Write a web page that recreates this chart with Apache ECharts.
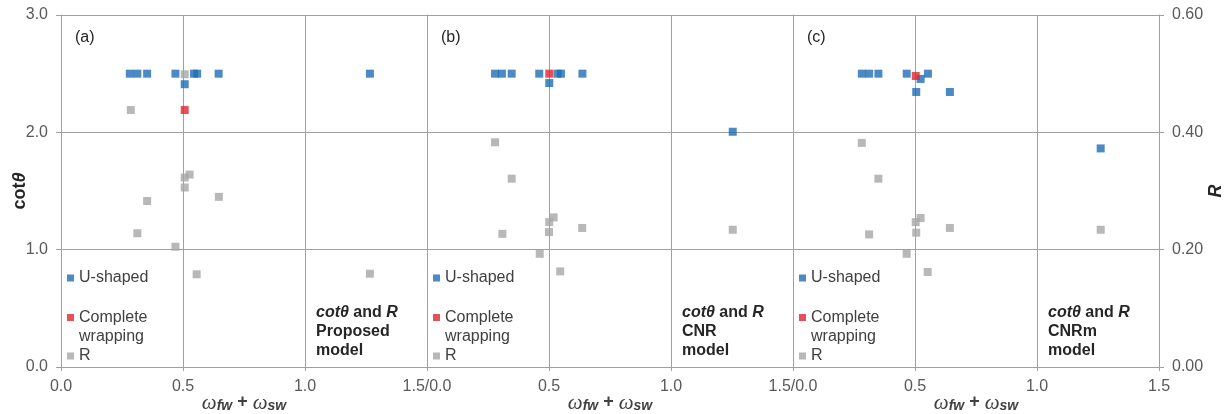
<!DOCTYPE html>
<html>
<head>
<meta charset="utf-8">
<script src="https://cdn.jsdelivr.net/npm/echarts@6/dist/echarts.min.js"></script>
<style>html,body{margin:0;padding:0;background:#fff;}#c{width:1227px;height:414px;}</style>
</head>
<body>
<div id="c"></div>
<script>
// ---------- data ----------
const panelLetters = ['(a)', '(b)', '(c)'];
const modelNames = ['Proposed', 'CNR', 'CNRm'];
const seriesNames = ['U-shaped', 'Complete\nwrapping', 'R'];

const xTickLabels = [
  ['0.0', '0.5', '1.0', ''],
  ['1.5/0.0', '0.5', '1.0', ''],
  ['1.5/0.0', '0.5', '1.0', '1.5']
];
const cotTickLabels = ['0.0', '1.0', '2.0', '3.0'];
const rTickLabels = ['0.00', '0.20', '0.40', '0.60'];

// panel (a) - Proposed model
const aUx = [0.282, 0.313, 0.353, 0.469, 0.507, 0.545, 0.558, 0.646, 1.266];
const aUy = [2.50, 2.50, 2.50, 2.50, 2.41, 2.50, 2.50, 2.50, 2.50];
const aCx = [0.507];
const aCy = [2.19];
const aRx = [0.286, 0.507, 0.527, 0.507, 0.507, 0.353, 0.647, 0.313, 0.469, 0.556, 1.266];
const aRy = [0.438, 0.499, 0.328, 0.323, 0.306, 0.283, 0.290, 0.228, 0.205, 0.158, 0.159];

// panel (b) - CNR model
const bUx = [0.279, 0.307, 0.347, 0.460, 0.501, 0.535, 0.549, 0.637, 1.253];
const bUy = [2.50, 2.50, 2.50, 2.50, 2.42, 2.50, 2.50, 2.50, 2.005];
const bCx = [0.501];
const bCy = [2.50];
const bRx = [0.279, 0.347, 0.309, 0.501, 0.519, 0.500, 0.636, 0.462, 0.546, 1.253];
const bRy = [0.383, 0.321, 0.227, 0.247, 0.255, 0.230, 0.237, 0.193, 0.163, 0.234];

// panel (c) - CNRm model
const cUx = [0.282, 0.312, 0.350, 0.466, 0.523, 0.553, 0.505, 0.643, 1.261];
const cUy = [2.50, 2.50, 2.50, 2.50, 2.455, 2.50, 2.344, 2.344, 1.863];
const cCx = [0.503];
const cCy = [2.48];
const cRx = [0.282, 0.350, 0.312, 0.503, 0.523, 0.505, 0.643, 0.466, 0.552, 1.261];
const cRy = [0.382, 0.321, 0.226, 0.247, 0.254, 0.229, 0.237, 0.193, 0.162, 0.234];

// ---------- build ----------
const panelData = [
  {U: [aUx, aUy], C: [aCx, aCy], R: [aRx, aRy]},
  {U: [bUx, bUy], C: [bCx, bCy], R: [bRx, bRy]},
  {U: [cUx, cUy], C: [cCx, cCy], R: [cRx, cRy]}
];
const zip = (xs, ys) => xs.map((x, i) => [x, ys[i]]);

const FONT = 'Liberation Sans, Arial, sans-serif';
const TXT = '#595959';
const DARK = '#262626';
const GRIDC = '#a0a0a0';
const colors = ['#1f6db4', '#e0252f', '#a6a6a6'];

const gridLefts = [61, 427, 793];
const gridW = 366;

const grids = gridLefts.map(l => ({
  left: l, width: gridW, top: 15, bottom: 47,
  containLabel: false, outerBoundsMode: 'none'
}));

const xAxes = gridLefts.map((l, i) => ({
  type: 'value', gridIndex: i, min: 0, max: 1.5, interval: 0.5,
  axisLine: {show: true, lineStyle: {color: GRIDC, width: 1}},
  axisTick: {show: true, length: 4, lineStyle: {color: GRIDC}},
  splitLine: {show: true, lineStyle: {color: GRIDC, width: 1}},
  axisLabel: {
    color: TXT, fontSize: 16, fontFamily: FONT, margin: 12,
    showMinLabel: true, showMaxLabel: true, hideOverlap: false,
    formatter: v => xTickLabels[i][Math.round(v / 0.5)]
  },
  name: '{w|ω}{s|fw}{p| + }{w|ω}{s|sw}',
  nameLocation: 'middle', nameGap: 26, nameMoveOverlap: false,
  nameTextStyle: {
    color: '#404040', fontFamily: FONT,
    rich: {
      w: {fontSize: 21, fontStyle: 'italic', fontFamily: 'Liberation Serif, serif', color: '#404040', verticalAlign: 'top', lineHeight: 21},
      s: {fontSize: 14, fontStyle: 'italic', fontWeight: 'bold', fontFamily: FONT, color: '#404040', verticalAlign: 'top', lineHeight: 21, padding: [6, 0, 0, 0]},
      p: {fontSize: 18, fontWeight: 'bold', fontFamily: FONT, color: '#404040', verticalAlign: 'top', lineHeight: 21}
    }
  }
}));

const yAxes = [];
for (let i = 0; i < 3; i++) {
  // cot axis
  yAxes.push({
    type: 'value', gridIndex: i, min: 0, max: 3, interval: 1, position: 'left',
    axisLine: {show: true, lineStyle: {color: GRIDC}},
    axisTick: {show: i === 0, length: 5, lineStyle: {color: GRIDC}},
    splitLine: {show: true, lineStyle: {color: GRIDC}},
    axisLabel: {show: i === 0, color: TXT, fontSize: 16, fontFamily: FONT, margin: 13,
      formatter: v => cotTickLabels[Math.round(v)]},
    name: i === 0 ? '{b|cot}{t|θ}' : '',
    nameLocation: 'middle', nameGap: 32, nameMoveOverlap: false,
    nameTextStyle: {
      rich: {
        b: {fontSize: 18, fontWeight: 'bold', fontFamily: FONT, color: DARK},
        t: {fontSize: 18, fontWeight: 'bold', fontStyle: 'italic', fontFamily: FONT, color: DARK}
      }
    }
  });
  // R axis
  yAxes.push({
    type: 'value', gridIndex: i, min: 0, max: 0.6, interval: 0.2, position: 'right',
    show: i === 2,
    axisLine: {show: true, lineStyle: {color: GRIDC}},
    axisTick: {show: true, length: 5, lineStyle: {color: GRIDC}},
    splitLine: {show: false},
    axisLabel: {color: TXT, fontSize: 16, fontFamily: FONT, margin: 13,
      formatter: v => rTickLabels[Math.round(v / 0.2)]},
    name: 'R', nameLocation: 'middle', nameGap: 48, nameMoveOverlap: false,
    nameTextStyle: {fontSize: 18, fontWeight: 'bold', fontStyle: 'italic', fontFamily: FONT, color: DARK}
  });
}

const series = [];
panelData.forEach((p, i) => {
  series.push({
    name: seriesNames[0], type: 'scatter', xAxisIndex: i, yAxisIndex: 2 * i,
    symbol: 'rect', symbolSize: 8, itemStyle: {color: colors[0]},
    data: zip(p.U[0], p.U[1]), z: 3
  });
  series.push({
    name: seriesNames[1], type: 'scatter', xAxisIndex: i, yAxisIndex: 2 * i,
    symbol: 'rect', symbolSize: 8, itemStyle: {color: colors[1]},
    data: zip(p.C[0], p.C[1]), z: 4
  });
  series.push({
    name: seriesNames[2], type: 'scatter', xAxisIndex: i, yAxisIndex: 2 * i + 1,
    symbol: 'rect', symbolSize: 8, itemStyle: {color: colors[2]},
    data: zip(p.R[0], p.R[1]), z: 2
  });
});

const legends = gridLefts.map(l => ({
  orient: 'vertical', left: l + 6, top: 269, padding: 0, itemGap: 2,
  itemWidth: 7, itemHeight: 7, icon: 'rect',
  textStyle: {color: '#404040', fontSize: 16, fontFamily: FONT},
  // the two-line item gets an empty first line so its icon sits level with "Complete"
  formatter: name => (name === seriesNames[1] ? '\n' + name : name),
  data: [
    {name: seriesNames[0], textStyle: {lineHeight: 18}},
    {name: seriesNames[1], textStyle: {lineHeight: 19}},
    {name: seriesNames[2], textStyle: {lineHeight: 16}}
  ]
}));

const graphics = [];
gridLefts.forEach((l, i) => {
  graphics.push({
    type: 'text', x: l + 14, y: 38,
    style: {text: panelLetters[i], fill: DARK, font: '16px ' + FONT, textVerticalAlign: 'middle'}
  });
  graphics.push({
    type: 'text', x: l + 255, y: 303,
    style: {
      text: '{i|cotθ}{b| and }{i|R}\n{b|' + modelNames[i] + '}\n{b|model}',
      fill: DARK, font: 'bold 16px ' + FONT,
      rich: {
        i: {fontSize: 16, fontWeight: 'bold', fontStyle: 'italic', fontFamily: FONT, fill: DARK, lineHeight: 19},
        b: {fontSize: 16, fontWeight: 'bold', fontFamily: FONT, fill: DARK, lineHeight: 19}
      }
    }
  });
});

const chart = echarts.init(document.getElementById('c'), null, {renderer: 'canvas'});
chart.setOption({
  backgroundColor: '#ffffff',
  animation: false,
  grid: grids,
  xAxis: xAxes,
  yAxis: yAxes,
  legend: legends,
  series: series,
  graphic: graphics
});
</script>
</body>
</html>
